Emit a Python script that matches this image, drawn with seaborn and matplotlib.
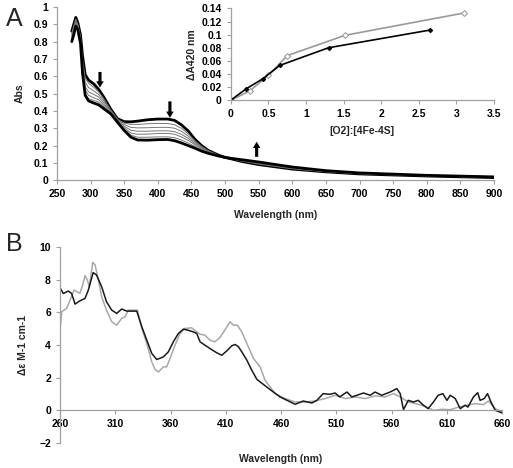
import numpy as np
import pandas as pd
import seaborn as sns
import matplotlib.pyplot as plt

sns.set_style('ticks')
plt.rcParams['font.family'] = ['Liberation Sans', 'DejaVu Sans']
plt.rcParams['font.weight'] = 'bold'

# ---- panel A : absorbance spectra during O2 titration
wl_a = [272, 275, 278, 281, 285, 288, 292, 297, 305, 312, 320, 330, 340, 350, 360, 370, 385,
        400, 415, 425, 435, 445, 455, 465, 475, 490, 500, 525, 550, 600, 650, 700, 800, 900]
abs_0 = [0.86, 0.90, 0.94, 0.91, 0.84, 0.72, 0.61, 0.578, 0.555, 0.525, 0.478, 0.41, 0.355, 0.338, 0.337, 0.341, 0.349,
         0.353, 0.353, 0.345, 0.32, 0.285, 0.237, 0.20, 0.172, 0.145, 0.132, 0.108, 0.090, 0.064, 0.048, 0.036, 0.024, 0.015]
abs_1 = [0.85, 0.89, 0.93, 0.90, 0.83, 0.70, 0.59, 0.56, 0.535, 0.51, 0.468, 0.405, 0.352, 0.33, 0.322, 0.322, 0.326,
         0.328, 0.327, 0.32, 0.30, 0.268, 0.228, 0.195, 0.17, 0.144, 0.132, 0.11, 0.093, 0.066, 0.049, 0.037, 0.025, 0.016]
abs_2 = [0.84, 0.88, 0.92, 0.895, 0.82, 0.68, 0.565, 0.535, 0.515, 0.495, 0.455, 0.40, 0.35, 0.322, 0.305, 0.302, 0.303,
         0.305, 0.305, 0.30, 0.283, 0.255, 0.22, 0.19, 0.167, 0.143, 0.132, 0.112, 0.096, 0.068, 0.05, 0.038, 0.025, 0.016]
abs_3 = [0.83, 0.87, 0.91, 0.89, 0.81, 0.66, 0.54, 0.51, 0.495, 0.48, 0.443, 0.395, 0.345, 0.312, 0.288, 0.283, 0.283,
         0.285, 0.285, 0.28, 0.265, 0.242, 0.212, 0.185, 0.163, 0.142, 0.131, 0.114, 0.099, 0.070, 0.052, 0.039, 0.026, 0.017]
abs_4 = [0.82, 0.86, 0.90, 0.885, 0.80, 0.645, 0.52, 0.49, 0.475, 0.465, 0.432, 0.39, 0.342, 0.303, 0.272, 0.265, 0.266,
         0.27, 0.27, 0.265, 0.25, 0.23, 0.205, 0.18, 0.16, 0.141, 0.131, 0.116, 0.101, 0.072, 0.053, 0.040, 0.027, 0.018]
abs_5 = [0.81, 0.85, 0.895, 0.88, 0.795, 0.63, 0.50, 0.47, 0.46, 0.45, 0.422, 0.386, 0.338, 0.295, 0.26, 0.248, 0.248,
         0.25, 0.25, 0.245, 0.232, 0.215, 0.195, 0.174, 0.157, 0.14, 0.131, 0.117, 0.103, 0.074, 0.054, 0.041, 0.027, 0.018]
abs_6 = [0.80, 0.84, 0.89, 0.87, 0.79, 0.62, 0.49, 0.458, 0.445, 0.435, 0.412, 0.383, 0.335, 0.287, 0.248, 0.232, 0.231,
         0.234, 0.235, 0.228, 0.215, 0.20, 0.185, 0.168, 0.155, 0.14, 0.131, 0.118, 0.105, 0.076, 0.055, 0.042, 0.028, 0.019]

# ---- inset : dA420 vs [O2]:[4Fe-4S]
o2_black = [0, 0.2, 0.43, 0.65, 1.3, 2.65]
da_black = [0, 0.017, 0.033, 0.053, 0.080, 0.107]
o2_gray = [0, 0.25, 0.5, 0.75, 1.52, 3.1]
da_gray = [0, 0.014, 0.038, 0.068, 0.099, 0.133]

# ---- panel B : CD difference spectra
wl_b_black = [260, 263, 267.5, 270.5, 273.6, 278, 282.6, 285.6, 290, 293, 297.7, 302, 306.8, 311.3, 315.8, 320.4, 324.9,
              329.4, 334, 338.5, 343, 347.5, 353.5, 358, 362.5, 367, 371.6, 376, 380.6, 383.7, 386.7, 391, 395.7, 401.8,
              406.3, 410.9, 415.4, 418.4, 421.4, 424.4, 429, 433.5, 438, 441, 450, 459, 466.6, 472.7, 480, 487.8, 492.3,
              498, 504, 508.9, 513, 519.5, 524, 528.5, 534.5, 540.5, 545, 551, 558.6, 564.7, 567.7, 570.7, 575, 579.7,
              584, 588.8, 593, 597.8, 602, 606.3, 610, 613, 617.5, 622, 626.5, 629, 634, 637.8, 640, 643.7, 646.7, 649.8,
              653.7, 657.6, 660]
de_black = [7.5, 7.15, 7.3, 7.15, 6.5, 6.7, 6.85, 7.36, 8.43, 8.28, 7.56, 6.65, 6.13, 5.93, 6.2, 6.07, 6.07,
            6.07, 5.11, 4.29, 3.48, 3.11, 3.27, 3.58, 4.19, 4.7, 4.97, 4.9, 4.8, 4.7, 4.19, 3.99, 3.78, 3.52,
            3.37, 3.64, 3.95, 4.03, 3.89, 3.58, 3.07, 2.45, 1.9, 1.74, 1.27, 0.82, 0.57, 0.37, 0.57, 0.45, 0.61,
            1.02, 0.98, 1.06, 0.82, 1.12, 0.82, 0.92, 1.06, 0.92, 1.12, 0.92, 1.12, 1.33, 1.02, 0.04, 0.61, 0.51,
            0.61, 0.31, 0.1, 0.51, 0.92, 1.02, 0.61, 0.92, 0.72, 0.1, 0.31, 0.2, 0.82, 1.08, 0.61, 0.72, 1.02, 0.51,
            0.0, -0.1, -0.16]
wl_b_gray = [260, 261.5, 266, 269.7, 272.7, 278, 280.5, 282.6, 284.7, 286.5, 289.6, 291.7, 294.7, 297.7, 302, 306.8,
             311.3, 315.8, 318.8, 321.8, 326.3, 330, 334, 338.5, 343, 346, 349, 353.5, 356.5, 359.5, 364, 368.6, 373,
             379, 383.7, 386.7, 391, 395.7, 400, 404.8, 409, 413.8, 416.8, 420.4, 424.4, 430.4, 435, 441, 445.5,
             454.6, 463.6, 472.7, 481.7, 490.8, 499.8, 508.9, 518, 527, 536, 545, 554, 561.6, 567.7, 575, 584, 591.8,
             597.8, 605.4, 613, 620.5, 628, 635.6, 643, 647.6, 653.7, 660]
de_gray = [4.9, 6.03, 6.24, 6.85, 7.36, 7.16, 7.67, 8.24, 7.98, 7.56, 9.06, 8.9, 7.98, 6.95, 6.13, 5.42,
           5.21, 5.63, 5.72, 6.13, 6.13, 6.13, 5.01, 4.09, 2.96, 2.5, 2.35, 2.66, 2.66, 3.17, 3.99, 4.7, 5.01,
           5.05, 4.8, 4.66, 4.6, 4.29, 4.19, 4.46, 4.9, 5.42, 5.21, 5.21, 4.8, 3.88, 3.17, 2.66, 1.84,
           1.02, 0.72, 0.51, 0.51, 0.57, 0.72, 0.92, 0.72, 0.82, 0.72, 0.88, 0.82, 1.02, 0.82, 0.51, 0.37, 0.2,
           0.0, 0.06, 0.04, 0.2, 0.31, 0.41, 0.35, 0.57, 0.1, -0.1]

# arrows in panel A: x, tail y, head y
arrow_x = [314, 418, 547]
arrow_from = [0.625, 0.455, 0.135]
arrow_to = [0.535, 0.36, 0.222]

spine_col = '#a0a0a0'
fs = 7.5

fig = plt.figure(figsize=(5.13, 4.68), dpi=100)
ax_a = fig.add_axes([0.111, 0.615, 0.852, 0.370])
ax_in = fig.add_axes([0.450, 0.786, 0.513, 0.196])
ax_b = fig.add_axes([0.117, 0.0534, 0.862, 0.419])


def style_axes(ax):
    for s in ['top', 'right']:
        ax.spines[s].set_visible(False)
    for s in ['left', 'bottom']:
        ax.spines[s].set_color(spine_col)
        ax.spines[s].set_linewidth(0.9)
    ax.tick_params(colors=spine_col, labelcolor='black', labelsize=fs, length=3, width=0.8, direction='out')
    for lab in ax.get_xticklabels() + ax.get_yticklabels():
        lab.set_fontweight('bold')


# panel A
spectra = [abs_0, abs_1, abs_2, abs_3, abs_4, abs_5, abs_6]
for i, sp in enumerate(spectra):
    thick = i in (0, len(spectra) - 1)
    sns.lineplot(x=wl_a, y=sp, ax=ax_a, sort=False, estimator=None,
                 color='black' if thick else '#777777', lw=2.0 if thick else 0.7)
ax_a.set_xlim(250, 900)
ax_a.set_ylim(0, 1)
ax_a.set_xticks(np.arange(250, 901, 50))
ax_a.set_yticks(np.arange(0, 1.01, 0.1))
ax_a.set_yticklabels(['0'] + ['%.1f' % v for v in np.arange(0.1, 0.95, 0.1)] + ['1'])
ax_a.set_xlabel('Wavelength (nm)', fontsize=fs, fontweight='bold', labelpad=8)
ax_a.set_ylabel('Abs', fontsize=fs, fontweight='bold', labelpad=6)
style_axes(ax_a)

for x, y0, y1 in zip(arrow_x, arrow_from, arrow_to):
    ax_a.annotate('', xy=(x, y1), xytext=(x, y0),
                  arrowprops=dict(arrowstyle='simple,head_length=0.5,head_width=0.6,tail_width=0.25',
                                  mutation_scale=9, lw=0, color='black', shrinkA=0, shrinkB=0))

# inset
sns.lineplot(x=o2_gray, y=da_gray, ax=ax_in, sort=False, estimator=None, color='#999999', lw=1.2,
             marker='D', markersize=3, markerfacecolor='white', markeredgecolor='#999999')
sns.lineplot(x=o2_black, y=da_black, ax=ax_in, sort=False, estimator=None, color='black', lw=1.2,
             marker='D', markersize=2.2, markerfacecolor='black', markeredgecolor='black')
ax_in.set_xlim(0, 3.5)
ax_in.set_ylim(0, 0.14)
ax_in.set_xticks(np.arange(0, 3.51, 0.5))
ax_in.set_xticklabels(['0', '0.5', '1', '1.5', '2', '2.5', '3', '3.5'])
ax_in.set_yticks(np.arange(0, 0.141, 0.02))
ax_in.set_yticklabels(['0', '0.02', '0.04', '0.06', '0.08', '0.1', '0.12', '0.14'])
ax_in.set_xlabel('[O2]:[4Fe-4S]', fontsize=fs, fontweight='bold', labelpad=5)
ax_in.set_ylabel('\u0394A420 nm', fontsize=fs, fontweight='bold', labelpad=3)
ax_in.patch.set_alpha(0)
style_axes(ax_in)

# panel B
sns.lineplot(x=wl_b_gray, y=de_gray, ax=ax_b, sort=False, estimator=None, color='#a8a8a8', lw=1.1)
sns.lineplot(x=wl_b_black, y=de_black, ax=ax_b, sort=False, estimator=None, color='#1a1a1a', lw=1.1)
ax_b.set_xlim(260, 660)
ax_b.set_ylim(-2, 10)
ax_b.set_xticks(np.arange(260, 661, 50))
ax_b.set_yticks(np.arange(-2, 10.1, 2))
ax_b.spines['bottom'].set_position(('data', 0))
ax_b.set_xlabel('Wavelength (nm)', fontsize=fs, fontweight='bold')
ax_b.xaxis.set_label_coords(0.5, -0.055)
ax_b.set_ylabel('\u0394\u03b5 M-1 cm-1', fontsize=fs, fontweight='bold', labelpad=8)
style_axes(ax_b)

fig.text(0.012, 0.985, 'A', fontsize=18, fontweight='normal', va='top')
fig.text(0.012, 0.505, 'B', fontsize=18, fontweight='normal', va='top')

fig.savefig('out.png', dpi=100)
